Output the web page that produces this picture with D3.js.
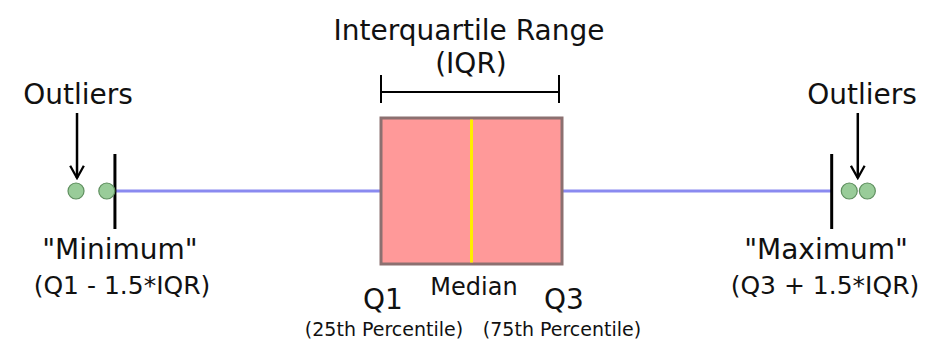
<!DOCTYPE html>
<html>
<head>
<meta charset="utf-8">
<script src="https://cdn.jsdelivr.net/npm/d3@7"></script>
<style>
  html, body { margin: 0; padding: 0; background: #fff; }
  svg { display: block; font-family: "DejaVu Sans", sans-serif; }
</style>
</head>
<body>
<svg id="chart" width="927" height="345"></svg>
<script>
// Box-plot anatomy, values in units of IQR with Q1 at 0 and Q3 at 1
const q1 = 0;
const median = 0.5;
const q3 = 1;
const whiskerLow = -1.47;
const whiskerHigh = 2.49;
const outliersLow = [-1.685, -1.515];
const outliersHigh = [2.587, 2.687];

const svg = d3.select("#chart");
const x = d3.scaleLinear().domain([0, 1]).range([381, 562]);

const midY = 191;
const boxTop = 118, boxBottom = 264;
const whiskerTop = 154, whiskerBottom = 229;

// arrow marker
svg.append("defs").append("marker")
  .attr("id", "arrow").attr("viewBox", "0 0 10 10")
  .attr("refX", 9).attr("refY", 5)
  .attr("markerWidth", 6.5).attr("markerHeight", 6.5)
  .attr("markerUnits", "strokeWidth")
  .attr("orient", "auto")
  .append("path").attr("d", "M1.5,0.8 L9,5 L1.5,9.2")
  .attr("fill", "none").attr("stroke", "#000").attr("stroke-width", 1.4);

// whisker line
svg.append("line")
  .attr("x1", x(whiskerLow)).attr("x2", x(whiskerHigh))
  .attr("y1", midY).attr("y2", midY)
  .attr("stroke", "#8a8af0").attr("stroke-width", 3);

// whisker caps
svg.selectAll("line.cap").data([whiskerLow, whiskerHigh]).enter()
  .append("line").attr("class", "cap")
  .attr("x1", d => x(d)).attr("x2", d => x(d))
  .attr("y1", whiskerTop).attr("y2", whiskerBottom)
  .attr("stroke", "#000").attr("stroke-width", 3);

// box
svg.append("rect")
  .attr("x", x(q1)).attr("y", boxTop)
  .attr("width", x(q3) - x(q1)).attr("height", boxBottom - boxTop)
  .attr("fill", "#ff9999")
  .attr("stroke", "#8c7070").attr("stroke-width", 3);

// median
svg.append("line")
  .attr("x1", x(median)).attr("x2", x(median))
  .attr("y1", boxTop + 1.5).attr("y2", boxBottom - 1.5)
  .attr("stroke", "#ffee00").attr("stroke-width", 3);

// outliers
svg.selectAll("circle.out").data(outliersLow.concat(outliersHigh)).enter()
  .append("circle").attr("class", "out")
  .attr("cx", d => x(d)).attr("cy", midY).attr("r", 8)
  .attr("fill", "#99cc99").attr("stroke", "#5f8f5f").attr("stroke-width", 1.2);

// IQR bracket
const br = svg.append("g").attr("stroke", "#000").attr("stroke-width", 2);
br.append("line").attr("x1", x(q1)).attr("x2", x(q3) - 3).attr("y1", 92).attr("y2", 92);
br.append("line").attr("x1", x(q1)).attr("x2", x(q1)).attr("y1", 75).attr("y2", 103);
br.append("line").attr("x1", x(q3) - 3).attr("x2", x(q3) - 3).attr("y1", 75).attr("y2", 103);

// arrows to outliers
const arrows = [x(outliersLow[0]) + 1, (x(outliersHigh[0]) + x(outliersHigh[1])) / 2 - 0.5];
svg.selectAll("line.arrow").data(arrows).enter()
  .append("line").attr("class", "arrow")
  .attr("x1", d => d).attr("x2", d => d)
  .attr("y1", 113).attr("y2", 178)
  .attr("stroke", "#000").attr("stroke-width", 2.5)
  .attr("marker-end", "url(#arrow)");

// labels
const labels = [
  { t: "Interquartile Range", x: 469, y: 40, s: 28 },
  { t: "(IQR)", x: 471, y: 73, s: 28 },
  { t: "Outliers", x: 78, y: 104, s: 28 },
  { t: "Outliers", x: 862, y: 104, s: 28 },
  { t: "\"Minimum\"", x: 120, y: 259, s: 28 },
  { t: "(Q1 - 1.5*IQR)", x: 122, y: 294, s: 25 },
  { t: "\"Maximum\"", x: 826, y: 259, s: 28 },
  { t: "(Q3 + 1.5*IQR)", x: 825, y: 294, s: 25 },
  { t: "Q1", x: 383, y: 309, s: 28 },
  { t: "Median", x: 474, y: 295, s: 24 },
  { t: "Q3", x: 564, y: 309, s: 28 },
  { t: "(25th Percentile)", x: 384, y: 336, s: 19 },
  { t: "(75th Percentile)", x: 562, y: 336, s: 19 }
];
svg.selectAll("text.lab").data(labels).enter()
  .append("text").attr("class", "lab")
  .attr("x", d => d.x).attr("y", d => d.y)
  .attr("text-anchor", "middle")
  .attr("font-size", d => d.s)
  .attr("fill", "#111")
  .text(d => d.t);
</script>
</body>
</html>
